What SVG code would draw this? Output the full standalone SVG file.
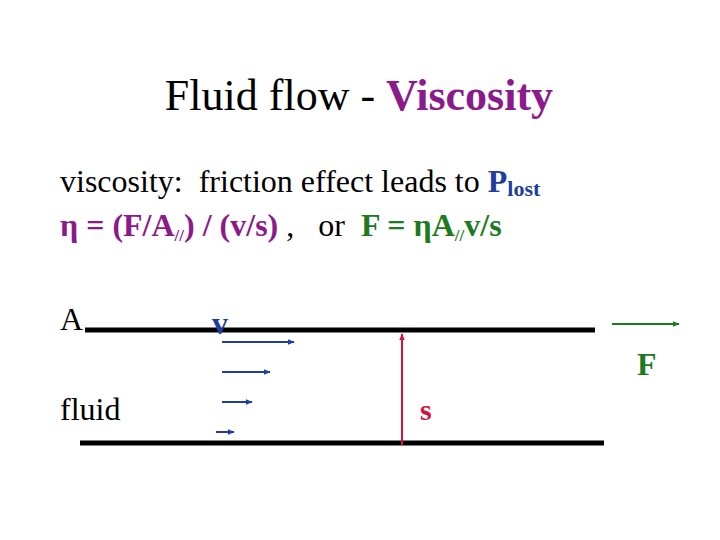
<svg xmlns="http://www.w3.org/2000/svg" width="720" height="540" viewBox="0 0 720 540" font-family="'Liberation Serif', 'Times New Roman', Times, serif">
<defs>
<style>
text{white-space:pre}
.b{font-weight:bold}
.pu{fill:#8B1A8B}
.bl{fill:#1F3E9E}
.gr{fill:#1E7A1E}
.rd{fill:#D3123F}
.plate{stroke:#000;stroke-width:5}
.va{stroke:#1F3E9E;stroke-width:2;marker-end:url(#ab)}
</style>
<marker id="ab" viewBox="0 0 10 10" refX="9" refY="5" markerWidth="3.5" markerHeight="3.5" orient="auto" markerUnits="strokeWidth"><path d="M0,1 L10,5 L0,9 z" fill="#1F3E9E"/></marker>
<marker id="ag" viewBox="0 0 10 10" refX="9" refY="5" markerWidth="3.5" markerHeight="3.5" orient="auto" markerUnits="strokeWidth"><path d="M0,1 L10,5 L0,9 z" fill="#1E7A1E"/></marker>
<marker id="ar" viewBox="0 0 10 10" refX="9" refY="5" markerWidth="3.5" markerHeight="3.5" orient="auto" markerUnits="strokeWidth"><path d="M0,1 L10,5 L0,9 z" fill="#D3123F"/></marker>
</defs>
<rect width="720" height="540" fill="#fff"/>
<g id="title"><text x="359" y="110" font-size="44" text-anchor="middle">Fluid flow - <tspan class="b pu">Viscosity</tspan></text></g>
<g id="line1"><text x="60" y="192" font-size="32">viscosity:  friction effect leads to <tspan class="b bl">P</tspan><tspan class="b bl" font-size="22" dy="4">lost</tspan></text></g>
<g id="line2"><text x="60" y="236" font-size="32"><tspan class="b pu">η = (F/A</tspan><tspan class="b pu" font-size="17" dy="5">//</tspan><tspan class="b pu" dy="-5">) / (v/s)</tspan> ,   or  <tspan class="b gr">F = ηA</tspan><tspan class="b gr" font-size="17" dy="5">//</tspan><tspan class="b gr" dy="-5">v/s</tspan></text></g>
<g id="plates">
<line class="plate" x1="85" y1="330" x2="595" y2="330"/>
<line class="plate" x1="80" y1="443" x2="604" y2="443"/>
</g>
<g id="labels">
<text x="60" y="330" font-size="32">A</text>
<text x="212" y="334" font-size="32" class="b bl">v</text>
<text x="60" y="420" font-size="32">fluid</text>
<text x="637" y="375" font-size="32" class="b gr">F</text>
<text x="420" y="420" font-size="30" class="b rd">s</text>
</g>
<g id="connectors">
<line class="va" x1="222" y1="342" x2="294" y2="342"/>
<line class="va" x1="222" y1="372" x2="270" y2="372"/>
<line class="va" x1="222" y1="402" x2="252" y2="402"/>
<line class="va" x1="216" y1="432" x2="234" y2="432"/>
<line x1="612" y1="324" x2="679" y2="324" stroke="#1E7A1E" stroke-width="2" marker-end="url(#ag)"/>
<line x1="402" y1="445" x2="402" y2="334" stroke="#D3123F" stroke-width="2" marker-end="url(#ar)"/>
</g>
</svg>
